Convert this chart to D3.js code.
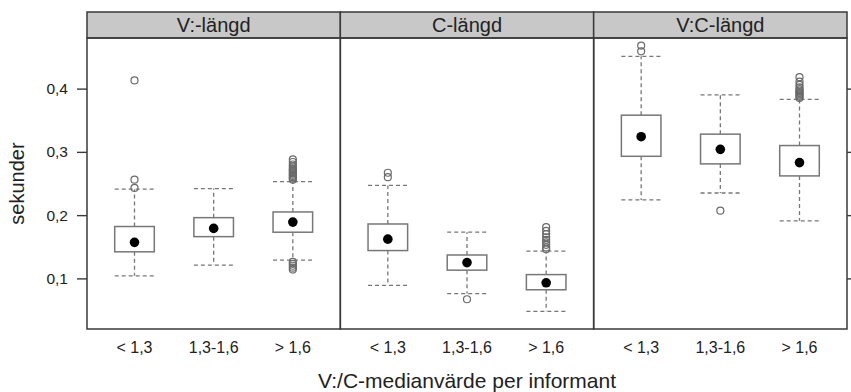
<!DOCTYPE html>
<html>
<head>
<meta charset="utf-8">
<title>bwplot</title>
<script src="https://d3js.org/d3.v7.min.js"></script>
<style>
  body { margin: 0; background: #fff; }
  svg { display: block; font-family: "Liberation Sans", Arial, sans-serif; }
  .frame { fill: none; stroke: #3a3a3a; stroke-width: 1.5; }
  .strip { fill: #c8c8c8; stroke: #3a3a3a; stroke-width: 1.5; }
  .box { fill: #fff; stroke: #777; stroke-width: 1.5; }
  .whisker { stroke: #777; stroke-width: 1.3; stroke-dasharray: 4 3; fill: none; }
  .outlier { fill: none; stroke: #6a6a6a; stroke-width: 1.2; }
  .tick line { stroke: #3a3a3a; stroke-width: 1.4; }
  .lbl { fill: #222; font-size: 16px; }
</style>
</head>
<body>
<div id="chart"></div>
<script>
// data
var panels = ["V:-längd", "C-längd", "V:C-längd"];
var groups = ["< 1,3", "1,3-1,6", "> 1,6"];
var yTicks = [0.1, 0.2, 0.3, 0.4];

// one row per panel, one value per group
var whiskerLow  = [[0.104, 0.121, 0.129], [0.089, 0.076, 0.048], [0.224, 0.235, 0.191]];
var q1          = [[0.142, 0.166, 0.173], [0.144, 0.113, 0.082], [0.293, 0.281, 0.262]];
var median      = [[0.157, 0.179, 0.189], [0.162, 0.125, 0.093], [0.324, 0.304, 0.283]];
var q3          = [[0.182, 0.196, 0.205], [0.186, 0.137, 0.106], [0.358, 0.328, 0.310]];
var whiskerHigh = [[0.241, 0.242, 0.253], [0.247, 0.173, 0.143], [0.451, 0.390, 0.383]];
var outliers = [
  [[0.413, 0.256, 0.243], [],
   [0.256, 0.258, 0.260, 0.262, 0.264, 0.266, 0.268, 0.270, 0.272, 0.274, 0.277, 0.280, 0.284, 0.288,
    0.126, 0.123, 0.120, 0.117, 0.114]],
  [[0.267, 0.260], [0.067],
   [0.146, 0.149, 0.153, 0.157, 0.161, 0.165, 0.170, 0.175, 0.181]],
  [[0.468, 0.459], [0.207],
   [0.385, 0.387, 0.389, 0.391, 0.393, 0.395, 0.397, 0.399, 0.402, 0.406, 0.411, 0.418]]
];

var W = 851, H = 392;
var plotLeft = 87, plotRight = 847, plotTop = 12, stripH = 26, plotBottom = 329;

var svg = d3.select("#chart").append("svg")
    .attr("width", W).attr("height", H);

var panelX = d3.scaleBand().domain(panels).range([plotLeft, plotRight]).padding(0);
var y = d3.scaleLinear().domain([0.02, 0.48]).range([plotBottom, plotTop + stripH]);
var fmt = function(d) { return d3.format(".1f")(d).replace(".", ","); };

var boxHalf = 0.25;

panels.forEach(function(p, pi) {
    var x0 = panelX(p), x1 = x0 + panelX.bandwidth();
    var x = d3.scaleLinear().domain([0.4, groups.length + 0.6]).range([x0, x1]);
    var g = svg.append("g");

    // strip
    g.append("rect").attr("class", "strip")
        .attr("x", x0).attr("y", plotTop).attr("width", x1 - x0).attr("height", stripH);
    g.append("text").attr("x", (x0 + x1) / 2).attr("y", plotTop + 20)
        .attr("text-anchor", "middle").style("font-size", "20px").attr("fill", "#222")
        .text(p);

    groups.forEach(function(gr, gi) {
        var cx = x(gi + 1), bl = x(gi + 1 - boxHalf), br = x(gi + 1 + boxHalf);
        // whiskers
        g.append("line").attr("class", "whisker")
            .attr("x1", cx).attr("x2", cx).attr("y1", y(q3[pi][gi])).attr("y2", y(whiskerHigh[pi][gi]));
        g.append("line").attr("class", "whisker")
            .attr("x1", cx).attr("x2", cx).attr("y1", y(q1[pi][gi])).attr("y2", y(whiskerLow[pi][gi]));
        [whiskerHigh[pi][gi], whiskerLow[pi][gi]].forEach(function(v) {
            g.append("line").attr("class", "whisker")
                .attr("x1", bl).attr("x2", br).attr("y1", y(v)).attr("y2", y(v));
        });
        // box
        g.append("rect").attr("class", "box")
            .attr("x", bl).attr("width", br - bl)
            .attr("y", y(q3[pi][gi])).attr("height", y(q1[pi][gi]) - y(q3[pi][gi]));
        // median dot
        g.append("circle").attr("cx", cx).attr("cy", y(median[pi][gi])).attr("r", 4.8).attr("fill", "#000");
        // outliers
        g.selectAll(null).data(outliers[pi][gi]).enter().append("circle")
            .attr("class", "outlier").attr("cx", cx).attr("cy", function(d) { return y(d); }).attr("r", 3.5);
        // x labels
        g.append("text").attr("class", "lbl").attr("x", cx).attr("y", plotBottom + 24)
            .attr("text-anchor", "middle").text(gr);
    });

    g.append("rect").attr("class", "frame")
        .attr("x", x0).attr("y", plotTop + stripH).attr("width", x1 - x0).attr("height", plotBottom - plotTop - stripH);
});

// y axes, left with labels and right with ticks only
var yl = svg.append("g").attr("class", "tick")
    .attr("transform", "translate(" + plotLeft + ",0)")
    .call(d3.axisLeft(y).tickValues(yTicks).tickSize(10).tickPadding(9).tickFormat(fmt));
yl.select(".domain").remove();
yl.selectAll("text").attr("class", "lbl").attr("fill", "#222").style("font-family", null).style("font-size", "15.5px");

var yr = svg.append("g").attr("class", "tick")
    .attr("transform", "translate(" + plotRight + ",0)")
    .call(d3.axisRight(y).tickValues(yTicks).tickSize(5).tickFormat(""));
yr.select(".domain").remove();

// axis titles
svg.append("text").attr("transform", "translate(24," + ((plotTop + stripH + plotBottom) / 2) + ") rotate(-90)")
    .attr("text-anchor", "middle").style("font-size", "20px").attr("fill", "#222").text("sekunder");
svg.append("text").attr("x", (plotLeft + plotRight) / 2).attr("y", 388)
    .attr("text-anchor", "middle").style("font-size", "21px").attr("fill", "#222")
    .text("V:/C-medianvärde per informant");
</script>
</body>
</html>
